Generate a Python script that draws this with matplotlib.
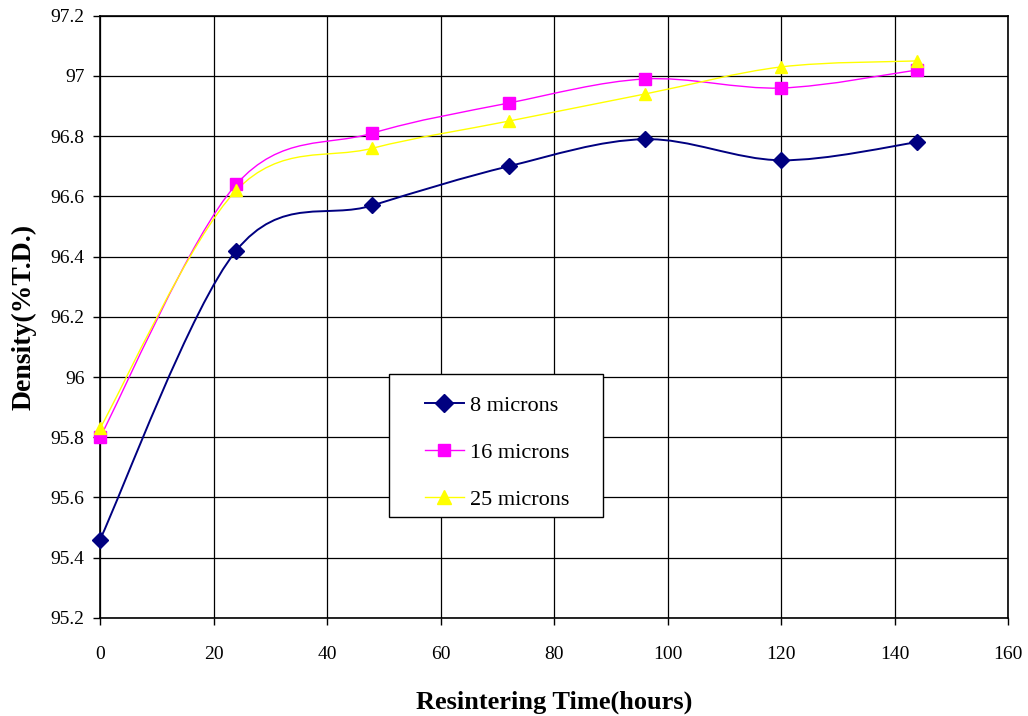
import numpy as np
import matplotlib.pyplot as plt
from matplotlib.path import Path
from matplotlib.patches import PathPatch, Rectangle
from matplotlib.lines import Line2D

plt.rcParams['font.family'] = ['Liberation Serif', 'DejaVu Serif']

# resintering time (hours)
hours = [0, 24, 48, 72, 96, 120, 144]
# density (%T.D.) per powder size
d8 = [95.46, 96.42, 96.57, 96.70, 96.79, 96.72, 96.78]
d16 = [95.80, 96.64, 96.81, 96.91, 96.99, 96.96, 97.02]
d25 = [95.83, 96.62, 96.76, 96.85, 96.94, 97.03, 97.05]

labels = ['8 microns', '16 microns', '25 microns']
colors = ['#000080', '#ff00ff', '#ffff00']
markers = ['D', 's', '^']
msizes = [8, 8, 9]
lwidths = [1.4, 1.0, 1.0]


def smooth_path(x, y):
    # bezier segments through the points, like a spreadsheet "smoothed line"
    p = np.column_stack([x, y]).astype(float)
    n = len(p)
    verts = [p[0]]
    codes = [Path.MOVETO]
    for i in range(n - 1):
        p0 = p[i - 1] if i > 0 else p[i]
        p3 = p[i + 2] if i + 2 < n else p[i + 1]
        c1 = p[i] + (p[i + 1] - p0) / 6.0
        c2 = p[i + 1] - (p3 - p[i]) / 6.0
        verts += [c1, c2, p[i + 1]]
        codes += [Path.CURVE4] * 3
    return Path(verts, codes)


fig = plt.figure(figsize=(10.28, 7.16), dpi=100)
ax = fig.add_axes([0.0973, 0.137, 0.8833, 0.841])

handles = []
for ys, lab, c, m, ms, lw in zip([d8, d16, d25], labels, colors, markers, msizes, lwidths):
    ax.add_patch(PathPatch(smooth_path(hours, ys), facecolor='none',
                           edgecolor=c, lw=lw, zorder=3, clip_on=False))
    ax.plot(hours, ys, linestyle='none', marker=m, markersize=ms,
            color=c, markeredgecolor=c, zorder=4, clip_on=False)
    handles.append(Line2D([], [], color=c, lw=lw, marker=m, markersize=ms + 1,
                          markeredgecolor=c))

ax.set_xlim(0, 160)
ax.set_ylim(95.2, 97.2)
ax.set_xticks(np.arange(0, 161, 20))
ax.set_yticks(np.arange(95.2, 97.21, 0.2))
ax.set_yticklabels(['95.2', '95.4', '95.6', '95.8', '96', '96.2', '96.4',
                    '96.6', '96.8', '97', '97.2'])
ax.grid(True, color='black', lw=0.9)
ax.set_axisbelow(True)
ax.tick_params(direction='out', length=5, width=1, labelsize=14, pad=6)
ax.tick_params(axis='x', pad=15)
for s in ax.spines.values():
    s.set_color('black')
    s.set_linewidth(1.2)

ax.set_xlabel('Resintering Time(hours)', fontsize=19, fontweight='bold', labelpad=20)
ax.set_ylabel('Density(%T.D.)', fontsize=20, fontweight='bold', labelpad=10)

# legend box (white, black border) with the entries centred inside it
ax.add_patch(Rectangle((0.318, 0.168), 0.236, 0.237, transform=ax.transAxes,
                       facecolor='white', edgecolor='black', lw=1.0, zorder=5))
leg = ax.legend(handles, labels, loc='center', bbox_to_anchor=(0.4375, 0.2745),
                fontsize=16, frameon=False, labelspacing=1.2, handlelength=1.75,
                handletextpad=0.3, borderpad=0, borderaxespad=0)
leg.set_zorder(6)

fig.savefig('out.png', dpi=100)
